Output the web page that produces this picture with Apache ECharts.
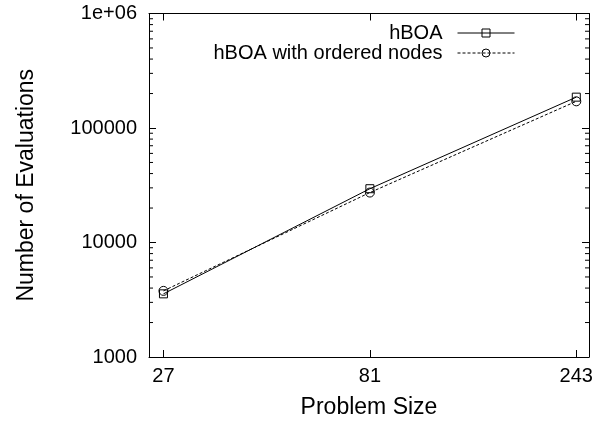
<!DOCTYPE html>
<html>
<head>
<meta charset="utf-8">
<script src="https://cdn.jsdelivr.net/npm/echarts@6/dist/echarts.min.js"></script>
<style>html,body{margin:0;padding:0;background:#fff;overflow:hidden}#c{width:609px;height:424px}</style>
</head>
<body>
<div id="c"></div>
<script>
var problemSizes = [27, 81, 243];
var hboa = [3560, 29500, 186000];
var hboaOrdered = [3780, 27300, 171000];
var yMinorTicks = [2000,3000,4000,5000,6000,7000,8000,9000,
  20000,30000,40000,50000,60000,70000,80000,90000,
  200000,300000,400000,500000,600000,700000,800000,900000];
var xMin = 25, xMax = 260, yMin = 1000, yMax = 1000000;
var FONT = 'Liberation Sans';

var chart = echarts.init(document.getElementById('c'));
function xLabel(v){ var r = Math.round(v); return (r===27||r===81||r===243) ? String(r) : ''; }
function yLabel(v){ var r = Math.round(v); if (r >= 1000000) return '1e+06'; return String(r); }

var baseX = {
  type: 'log', logBase: 3, min: xMin, max: xMax, splitNumber: 2,
  axisLine: {lineStyle: {color: '#000', width: 1}},
  axisTick: {inside: true, length: 7, lineStyle: {color: '#000'}},
  splitLine: {show: false}
};
var baseY = {
  type: 'log', logBase: 10, min: yMin, max: yMax,
  axisLine: {lineStyle: {color: '#000', width: 1}},
  axisTick: {inside: true, length: 7, lineStyle: {color: '#000'}},
  splitLine: {show: false}
};

chart.setOption({
  animation: false,
  textStyle: {fontFamily: FONT},
  grid: {left: 149, right: 20, top: 13.5, bottom: 65, containLabel: false},
  legend: {
    orient: 'vertical', right: 89, top: 18, align: 'right', itemGap: 0,
    itemWidth: 57, itemHeight: 10,
    lineStyle: {width: 1, color: '#000'},
    itemStyle: {borderWidth: 1, borderColor: '#000'},
    textStyle: {fontFamily: FONT, fontSize: 20, color: '#000', padding: [0, 10, 0, 0]},
    data: ['hBOA', 'hBOA with ordered nodes']
  },
  xAxis: [
    Object.assign({}, baseX, {
      position: 'bottom',
      name: 'Problem Size', nameLocation: 'middle', nameGap: 39,
      nameTextStyle: {fontFamily: FONT, fontSize: 23, color: '#000'},
      axisLabel: {fontFamily: FONT, fontSize: 20, color: '#000', margin: 9,
        showMinLabel: false, showMaxLabel: false, formatter: xLabel}
    }),
    Object.assign({}, baseX, {position: 'top', axisLabel: {show: false}})
  ],
  yAxis: [
    Object.assign({}, baseY, {
      position: 'left',
      name: 'Number of Evaluations', nameLocation: 'middle', nameGap: 111,
      nameTextStyle: {fontFamily: FONT, fontSize: 23, color: '#000'},
      axisLabel: {fontFamily: FONT, fontSize: 20, color: '#000', margin: 12, formatter: yLabel}
    }),
    Object.assign({}, baseY, {position: 'right', axisLabel: {show: false}})
  ],
  series: [
    {
      name: 'hBOA', type: 'line', xAxisIndex: 0, yAxisIndex: 0,
      data: problemSizes.map(function(x,i){ return [x, hboa[i]]; }),
      symbol: 'rect', symbolSize: 8, color: '#000',
      lineStyle: {color: '#000', width: 1, type: 'solid'},
      itemStyle: {color: 'rgba(255,255,255,0)', borderColor: '#000', borderWidth: 1}
    },
    {
      name: 'hBOA with ordered nodes', type: 'line', xAxisIndex: 0, yAxisIndex: 0,
      data: problemSizes.map(function(x,i){ return [x, hboaOrdered[i]]; }),
      symbol: 'circle', symbolSize: 9, color: '#000',
      lineStyle: {color: '#000', width: 1, type: [3, 2]},
      itemStyle: {color: 'rgba(255,255,255,0)', borderColor: '#000', borderWidth: 1}
    },
    {
      type: 'custom', xAxisIndex: 0, yAxisIndex: 0, silent: true,
      data: yMinorTicks.map(function(v){ return [xMin, v]; }),
      renderItem: function(params, api){
        var cs = params.coordSys;
        var p = api.coord([api.value(0), api.value(1)]);
        var y = p[1];
        var st = {stroke: '#000', lineWidth: 1};
        return {type: 'group', children: [
          {type: 'line', shape: {x1: cs.x, y1: y, x2: cs.x + 4, y2: y}, style: st},
          {type: 'line', shape: {x1: cs.x + cs.width - 4, y1: y, x2: cs.x + cs.width, y2: y}, style: st}
        ]};
      }
    }
  ]
});
</script>
</body>
</html>
